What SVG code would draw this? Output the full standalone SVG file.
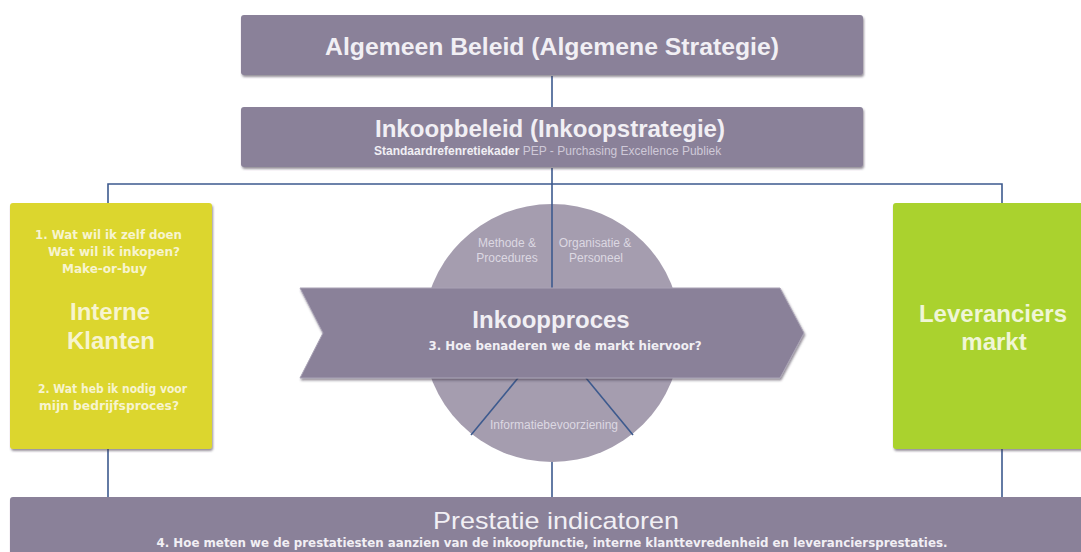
<svg xmlns="http://www.w3.org/2000/svg" width="1081" height="552" viewBox="0 0 1081 552">
<defs>
<filter id="sh" x="-5%" y="-10%" width="110%" height="130%">
<feDropShadow dx="1" dy="2" stdDeviation="1.2" flood-color="#3c3848" flood-opacity="0.55"/>
</filter>
<style>
.pbox{fill:#8a8199;filter:url(#sh)}
.conn{stroke:#3d5a8e;stroke-width:1.6;fill:none}
.big{font-family:"Liberation Sans",Arial,sans-serif;font-weight:bold;font-size:24px;text-anchor:middle}
.sm{font-family:"DejaVu Sans",Verdana,sans-serif;font-weight:bold;font-size:12px}
.thin{font-family:"Liberation Sans",Arial,sans-serif;font-size:12px;fill:#dcd8e2;text-anchor:middle}
.wp{fill:#f1eff4}
.wy{fill:#f7f4cf}
.wg{fill:#f0f6d6}
</style>
</defs>
<rect width="1081" height="552" fill="#ffffff"/>

<g id="connectors">
<line class="conn" x1="552" y1="76" x2="552" y2="108"/>
<line class="conn" x1="552" y1="168" x2="552" y2="288"/>
<polyline class="conn" points="108,203 108,184 1002,184 1002,203"/>
<line class="conn" x1="108" y1="449" x2="108" y2="498"/>
<line class="conn" x1="1002" y1="449" x2="1002" y2="498"/>
<line class="conn" x1="552" y1="461" x2="552" y2="498"/>
</g>

<g id="algemeen-beleid">
<rect class="pbox" x="241" y="15" width="622" height="60" rx="3"/>
<text class="big wp" x="552" y="55" textLength="454" lengthAdjust="spacingAndGlyphs">Algemeen Beleid (Algemene Strategie)</text>
</g>

<g id="inkoopbeleid">
<rect class="pbox" x="241" y="107" width="622" height="60" rx="3"/>
<text class="big wp" x="550" y="137" textLength="350" lengthAdjust="spacingAndGlyphs">Inkoopbeleid (Inkoopstrategie)</text>
<text x="374" y="155" font-family="Liberation Sans, Arial, sans-serif" font-size="12"><tspan font-weight="bold" fill="#f1eff4">Standaardrefenretiekader</tspan><tspan fill="#cfc9d8"> PEP - Purchasing Excellence Publiek</tspan></text>
</g>

<g id="interne-klanten">
<rect x="10" y="203" width="202" height="246" rx="3" fill="#dcd62f" filter="url(#sh)"/>
<text class="sm wy" x="35" y="239" textLength="147" lengthAdjust="spacingAndGlyphs">1. Wat wil ik zelf doen</text>
<text class="sm wy" x="48" y="256" textLength="132" lengthAdjust="spacingAndGlyphs">Wat wil ik inkopen?</text>
<text class="sm wy" x="62" y="273" textLength="85" lengthAdjust="spacingAndGlyphs">Make-or-buy</text>
<text class="big wy" x="110" y="320">Interne</text>
<text class="big wy" x="111" y="349">Klanten</text>
<text class="sm wy" x="38" y="393" textLength="149" lengthAdjust="spacingAndGlyphs">2. Wat heb ik nodig voor</text>
<text class="sm wy" x="39" y="410" textLength="140" lengthAdjust="spacingAndGlyphs">mijn bedrijfsproces?</text>
</g>

<g id="leveranciers-markt">
<rect x="893" y="203" width="200" height="246" rx="3" fill="#aad22e" filter="url(#sh)"/>
<text class="big wg" x="993" y="322">Leveranciers</text>
<text class="big wg" x="994" y="350">markt</text>
</g>

<g id="inkoopproces">
<circle cx="552" cy="333" r="129" fill="#a59daf"/>
<line class="conn" x1="552" y1="204" x2="552" y2="288"/>
<line class="conn" x1="518" y1="378" x2="471" y2="435"/>
<line class="conn" x1="586" y1="378" x2="633" y2="435"/>
<text class="thin" x="507" y="247">Methode &amp;</text>
<text class="thin" x="507" y="262">Procedures</text>
<text class="thin" x="595" y="247">Organisatie &amp;</text>
<text class="thin" x="596" y="262">Personeel</text>
<text class="thin" x="554" y="429">Informatiebevoorziening</text>
<polygon points="300,288 780,288 804,333 780,378 300,378 323,333" fill="#8a8199" stroke="#aaa3b6" stroke-width="1" filter="url(#sh)"/>
<text class="big wp" x="551" y="328">Inkoopproces</text>
<text class="sm wp" x="565" y="350" text-anchor="middle" textLength="273" lengthAdjust="spacingAndGlyphs">3. Hoe benaderen we de markt hiervoor?</text>
</g>

<g id="prestatie-indicatoren">
<rect class="pbox" x="10" y="497" width="1080" height="70" rx="3"/>
<text x="556" y="529" font-family="Liberation Sans, Arial, sans-serif" font-size="24" fill="#f1eff4" text-anchor="middle" textLength="246" lengthAdjust="spacingAndGlyphs">Prestatie indicatoren</text>
<text class="sm wp" x="552" y="547" text-anchor="middle" font-size="11" textLength="791" lengthAdjust="spacingAndGlyphs">4. Hoe meten we de prestatiesten aanzien van de inkoopfunctie, interne klanttevredenheid en leveranciersprestaties.</text>
</g>
</svg>
